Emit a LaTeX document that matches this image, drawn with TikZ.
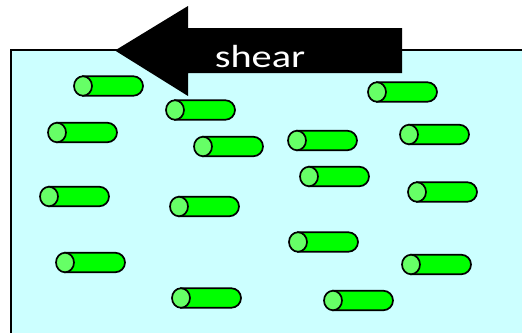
\documentclass[tikz,border=0pt]{standalone}
\usepackage{fontspec}
\setmainfont{Carlito}
\begin{document}
\begin{tikzpicture}[x=1pt,y=-1pt,
  cylpic/.pic={
    \path[fill=bodygreen,draw=black,line width=1.7pt]
      (9,-9.75) -- (59.25,-9.75) arc[start angle=-90,end angle=90,radius=9.75]
      -- (9,9.75) -- cycle;
    \path[fill=capgreen,draw=black,line width=1.7pt]
      (9,0) ellipse[x radius=9,y radius=9.75];
  }]
\definecolor{fluid}{HTML}{CCFFFF}
\definecolor{bodygreen}{HTML}{00FF00}
\definecolor{capgreen}{HTML}{66FF66}
\useasboundingbox (0,0) rectangle (522,332);
% fluid box
\fill[fluid] (11,50) rectangle (525,335);
\draw[black,line width=1.8pt] (11,335) -- (11,50) -- (525,50);
% cylinders (left edge, centre y)
\foreach \x/\y in {74/86, 166/110, 368/92, 48/132.5, 194/146.5, 288/140.5,
  400/134.5, 300/176.5, 40/196.5, 408/192, 170/206.5, 289/242,
  56/262.5, 402/264.5, 172/298, 324/300.5}
  \pic at (\x,\y) {cylpic};
% shear arrow
\fill[black] (115,50.5) -- (188,6) -- (188,28) -- (402,28) -- (402,73)
  -- (188,73) -- (188,96) -- cycle;
\node[text=white,font=\fontsize{32}{38}\selectfont,inner sep=0pt,anchor=base]
  (shear) at (260,67) {\scalebox{1.26}[1]{shear}};
\end{tikzpicture}
\end{document}
